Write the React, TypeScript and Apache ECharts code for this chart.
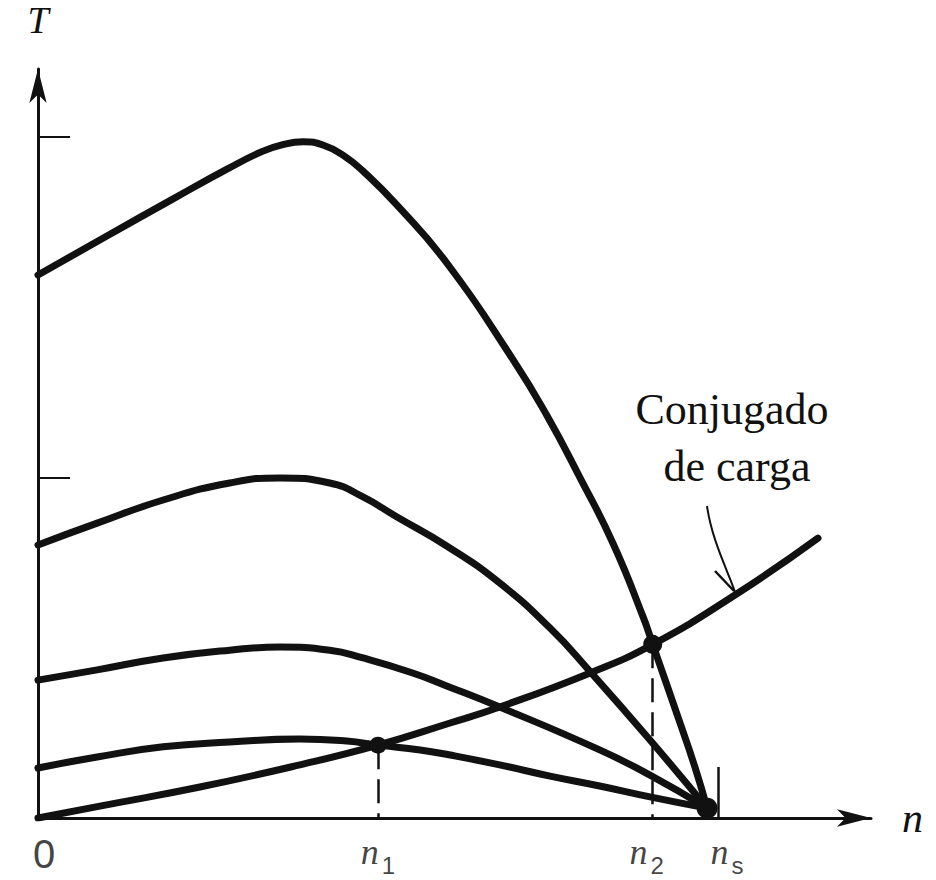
import { useEffect, useRef } from "react";
import * as echarts from "echarts";

// Speed axis in per-unit of synchronous speed (ns = 1); torque in per-unit of the second curve's peak.
const NS = 1;
const N1 = 0.5;
const T1 = 0.214;
const N2 = 0.904;
const T2 = 0.51;
const CONVERGE: [number, number] = [0.984, 0.029];

// Motor torque–speed curves, one per supply voltage (highest first)
const torqueV1: [number, number][] = [
  [0, 1.595], [0.1, 1.708], [0.2, 1.82], [0.28, 1.908], [0.33, 1.958],
  [0.36, 1.978], [0.39, 1.986], [0.42, 1.976], [0.45, 1.945], [0.478, 1.9],
  [0.528, 1.8], [0.602, 1.628], [0.699, 1.345], [0.749, 1.18], [0.797, 1.0],
  [0.846, 0.805], [0.89, 0.59], [0.904, 0.51], [0.944, 0.28], [0.966, 0.15],
  [0.984, 0.029],
];
const torqueV2: [number, number][] = [
  [0, 0.802], [0.087, 0.866], [0.184, 0.934], [0.282, 0.984], [0.356, 0.999],
  [0.429, 0.984], [0.478, 0.943], [0.528, 0.884], [0.601, 0.799], [0.679, 0.69],
  [0.753, 0.558], [0.812, 0.43], [0.9, 0.229], [0.984, 0.029],
];
const torqueV3: [number, number][] = [
  [0, 0.405], [0.087, 0.435], [0.184, 0.47], [0.282, 0.493], [0.356, 0.502],
  [0.429, 0.493], [0.478, 0.47], [0.551, 0.426], [0.601, 0.388], [0.679, 0.326],
  [0.826, 0.2], [0.9, 0.126], [0.984, 0.029],
];
const torqueV4: [number, number][] = [
  [0, 0.147], [0.087, 0.179], [0.184, 0.209], [0.282, 0.223], [0.385, 0.232],
  [0.454, 0.226], [0.5, 0.214], [0.562, 0.2], [0.606, 0.185], [0.679, 0.156],
  [0.753, 0.123], [0.826, 0.094], [0.9, 0.062], [0.984, 0.029],
];
// Load torque ("Conjugado de carga")
const loadTorque: [number, number][] = [
  [0, 0], [0.091, 0.035], [0.238, 0.091], [0.385, 0.156], [0.5, 0.214],
  [0.606, 0.279], [0.679, 0.326], [0.812, 0.426], [0.904, 0.51],
  [1.025, 0.655], [1.147, 0.822],
];
const LOAD_NOTE_POINT: [number, number] = [1.025, 0.655];

const xTickValues = [0, N1, N2, NS];
const xTickLabels = ["{z|0}", "{n|n}{s|1}", "{n|n}{s2|2}", "{nr|n}{s|s}"];
const yTickValues = [1, 2];
const noteLines = ["Conjugado", "de carga"];

const INK = "#111";

export default function App() {
  const ref = useRef<HTMLDivElement>(null);

  useEffect(() => {
    if (!ref.current) return;
    const chart = echarts.init(ref.current, undefined, { renderer: "svg" });

    const curve = (data: [number, number][]) => ({
      type: "line" as const,
      data,
      showSymbol: false,
      smooth: 0.5,
      silent: true,
      lineStyle: { width: 7, color: INK, cap: "round", join: "round" },
      z: 3,
    });

    // subscripts sit in a taller token aligned to the line bottom, so they drop below the "n" baseline
    const labelRich = {
      z: { fontFamily: "Liberation Sans", fontSize: 40, lineHeight: 38, color: INK, verticalAlign: "top", padding: [0, 0, 0, 12] },
      n: { fontFamily: "Liberation Serif", fontStyle: "italic", fontSize: 36, lineHeight: 36, color: INK, verticalAlign: "top" },
      nr: { fontFamily: "Liberation Serif", fontStyle: "italic", fontSize: 36, lineHeight: 36, color: INK, verticalAlign: "top", padding: [0, 0, 0, 18] },
      s: { fontFamily: "Liberation Sans", fontSize: 24, lineHeight: 44, color: INK, verticalAlign: "bottom", padding: [20, 0, 0, 3] },
      s2: { fontFamily: "Liberation Sans", fontSize: 24, lineHeight: 44, color: INK, verticalAlign: "bottom", padding: [20, 12, 0, 3] },
    };

    chart.setOption({
      animation: false,
      grid: { left: 38, right: 65, top: 69, bottom: 62 },
      xAxis: {
        type: "value",
        min: 0,
        max: 1.225,
        name: "n",
        nameLocation: "end",
        nameGap: 31,
        nameTextStyle: {
          fontFamily: "Liberation Serif",
          fontStyle: "italic",
          fontSize: 42,
          color: INK,
          padding: [0, 0, 10, 0],
        },
        axisLine: {
          show: true,
          symbol: ["none", "arrow"],
          symbolSize: [13, 34],
          lineStyle: { color: INK, width: 3 },
        },
        axisTick: {
          show: true,
          inside: true,
          length: 51,
          customValues: [NS],
          lineStyle: { color: INK, width: 2.5 },
        },
        axisLabel: { show: false },
        splitLine: { show: false },
      },
      yAxis: {
        type: "value",
        min: 0,
        max: 2.2,
        name: "T",
        nameLocation: "end",
        nameGap: 30,
        nameTextStyle: {
          fontFamily: "Liberation Serif",
          fontStyle: "italic",
          fontSize: 38,
          color: INK,
        },
        axisLine: {
          show: true,
          symbol: ["none", "arrow"],
          symbolSize: [13, 34],
          lineStyle: { color: INK, width: 3 },
        },
        axisTick: {
          show: true,
          inside: true,
          length: 32,
          customValues: yTickValues,
          lineStyle: { color: INK, width: 2 },
        },
        axisLabel: { show: false },
        splitLine: { show: false },
      },
      series: [
        curve(torqueV1),
        curve(torqueV2),
        curve(torqueV3),
        curve(torqueV4),
        curve(loadTorque),
        {
          // operating points and the dashed drop lines to the speed axis
          type: "scatter",
          silent: true,
          z: 4,
          itemStyle: { color: INK, opacity: 1 },
          data: [
            { value: [N1, T1], symbolSize: 17 },
            { value: [N2, T2], symbolSize: 19 },
            { value: CONVERGE, symbolSize: 21 },
          ],
          markLine: {
            silent: true,
            symbol: ["none", "none"],
            label: { show: false },
            lineStyle: { color: INK, width: 2.5, type: [24, 10], opacity: 1 },
            data: [
              [{ coord: [N1, T1] }, { coord: [N1, 0] }],
              [{ coord: [N2, T2] }, { coord: [N2, 0] }],
            ],
          },
        },
        {
          // speed labels under the axis: 0, n1, n2, ns
          type: "scatter",
          silent: true,
          clip: false,
          symbolSize: 1,
          itemStyle: { color: "rgba(0,0,0,0)" },
          z: 5,
          label: {
            show: true,
            position: "bottom",
            distance: 15,
            color: INK,
            formatter: (p: { dataIndex: number }) => xTickLabels[p.dataIndex],
            rich: labelRich,
          },
          data: xTickValues.map((v) => [v, 0]),
        },
      ],
    });

    // Annotation for the load curve, anchored to a point on it
    const [px, py] = chart.convertToPixel({ gridIndex: 0 }, LOAD_NOTE_POINT) as number[];
    chart.setOption({
      graphic: [
        {
          type: "text",
          x: px - 3,
          y: py - 186,
          style: {
            text: noteLines[0],
            fontFamily: "Liberation Serif",
            fontSize: 44,
            fill: INK,
            align: "center",
            verticalAlign: "middle",
          },
        },
        {
          type: "text",
          x: px + 2,
          y: py - 129,
          style: {
            text: noteLines[1],
            fontFamily: "Liberation Serif",
            fontSize: 44,
            fill: INK,
            align: "center",
            verticalAlign: "middle",
          },
        },
        {
          type: "bezierCurve",
          shape: {
            x1: px - 28, y1: py - 89,
            cpx1: px - 23, cpy1: py - 54,
            cpx2: px - 7, cpy2: py - 24,
            x2: px, y2: py - 3,
          },
          style: { stroke: INK, lineWidth: 2, fill: "none" },
        },
        {
          type: "polyline",
          shape: { points: [[px - 20, py - 24], [px - 1, py - 4]] },
          style: { stroke: INK, lineWidth: 2.5, fill: "none" },
        },
      ],
    });

    return () => chart.dispose();
  }, []);

  return (
    <div
      ref={ref}
      style={{ position: "fixed", left: 0, top: 0, width: 936, height: 880, background: "#fff" }}
    />
  );
}
